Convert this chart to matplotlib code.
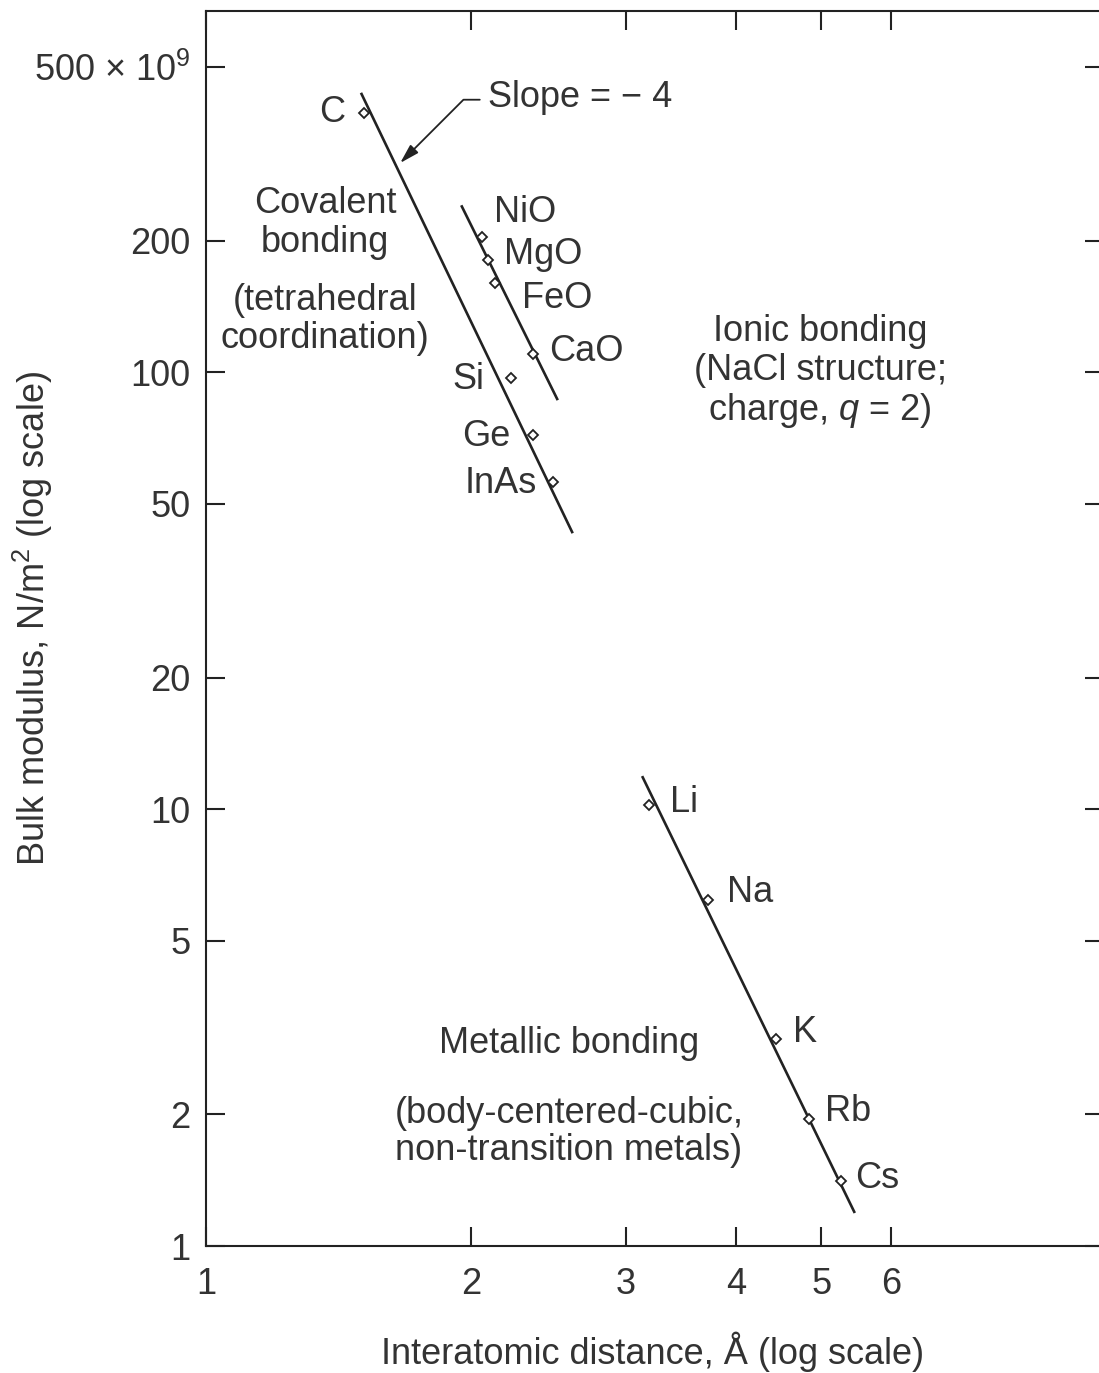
import matplotlib
matplotlib.use("Agg")
import matplotlib.pyplot as plt
from matplotlib.ticker import FixedLocator, FixedFormatter, NullLocator

plt.rcParams['font.family'] = ['Liberation Sans', 'DejaVu Sans']
plt.rcParams['mathtext.fontset'] = 'custom'
plt.rcParams['mathtext.rm'] = 'Liberation Sans'
plt.rcParams['mathtext.it'] = 'Liberation Sans:italic'

# interatomic distance (angstrom) and bulk modulus (x1e9 N/m^2)
covalent_names = ["C", "Si", "Ge", "InAs"]
covalent_r = [1.51, 2.22, 2.35, 2.48]
covalent_B = [392, 97, 72, 56]

ionic_names = ["NiO", "MgO", "FeO", "CaO"]
ionic_r = [2.06, 2.09, 2.13, 2.35]
ionic_B = [204, 181, 160, 110]

metal_names = ["Li", "Na", "K", "Rb", "Cs"]
metal_r = [3.19, 3.72, 4.44, 4.84, 5.27]
metal_B = [10.2, 6.2, 2.97, 1.95, 1.41]

# slope -4 guide lines (end points)
covalent_line_r = [1.50, 2.61]
covalent_line_B = [436, 42.8]
ionic_line_r = [1.95, 2.51]
ionic_line_B = [241, 86.3]
metal_line_r = [3.13, 5.46]
metal_line_B = [11.9, 1.19]

x_ticks = [1, 2, 3, 4, 5, 6]
x_tick_labels = ["1", "2", "3", "4", "5", "6"]
y_ticks = [1, 2, 5, 10, 20, 50, 100, 200, 500]
y_tick_labels = ["1", "2", "5", "10", "20", "50", "100", "200", r"500 $\times$ 10$^{9}$"]

# label offsets in points (dx, dy, ha)
covalent_offsets = [(-13, 0.7, 'right'), (-19.4, -1.4, 'right'), (-15.8, -1.4, 'right'), (-11.5, -0.7, 'right')]
ionic_offsets = [(8.6, 17.3, 'left'), (11.5, 3.6, 'left'), (19.4, -10.8, 'left'), (12.2, 2.2, 'left')]
metal_offsets = [(15.1, 2.2, 'left'), (13.7, 5.0, 'left'), (12.2, 5.0, 'left'), (11.5, 5.8, 'left'), (10.1, 1.4, 'left')]

FS = 26
TXT = '#333333'

fig = plt.figure(figsize=(10.99, 13.73), dpi=100)
ax = fig.add_axes([206 / 1099, 127 / 1373, 898 / 1099, 1235 / 1373])
ax.set_xscale('log')
ax.set_yscale('log')
ax.set_xlim(1, 10.48)
ax.set_ylim(1, 671)

for r, B in [(covalent_line_r, covalent_line_B), (ionic_line_r, ionic_line_B), (metal_line_r, metal_line_B)]:
    ax.plot(r, B, color='#222222', lw=1.9, solid_capstyle='butt', zorder=2)

groups = [(covalent_names, covalent_r, covalent_B, covalent_offsets),
          (ionic_names, ionic_r, ionic_B, ionic_offsets),
          (metal_names, metal_r, metal_B, metal_offsets)]
for names, rs, Bs, offs in groups:
    ax.plot(rs, Bs, linestyle='none', marker='D', ms=5, mfc='white', mec='#222222', mew=1.3, zorder=3)
    for name, r, B, (dx, dy, ha) in zip(names, rs, Bs, offs):
        ax.annotate(name, (r, B), xytext=(dx, dy), textcoords='offset points',
                    ha=ha, va='center', fontsize=FS, color=TXT)

ax.text(1.365, 219.5, "Covalent\nbonding", ha='center', va='center', fontsize=FS, color=TXT, linespacing=1.14)
ax.text(1.365, 132.2, "(tetrahedral\ncoordination)", ha='center', va='center', fontsize=FS, color=TXT, linespacing=1.1)
ax.text(4.986, 100, "Ionic bonding\n(NaCl structure;\ncharge, $q$ = 2)", ha='center', va='center', fontsize=FS,
        color=TXT, linespacing=1.12)
ax.text(2.585, 2.904, "Metallic bonding", ha='center', va='center', fontsize=FS, color=TXT)
ax.text(2.585, 1.825, "(body-centered-cubic,\nnon-transition metals)", ha='center', va='center', fontsize=FS,
        color=TXT, linespacing=1.1)

ax.annotate("Slope = \u2212 4", xy=(1.662, 301.2), xytext=(2.092, 424.3), ha='left', va='center',
            fontsize=FS, color=TXT,
            arrowprops=dict(arrowstyle='-|>,head_length=0.45,head_width=0.13', color='#222222', lw=1.3,
                            connectionstyle='angle,angleA=0,angleB=45,rad=0',
                            relpos=(0, 0.45), shrinkA=4, shrinkB=0))

ax.xaxis.set_major_locator(FixedLocator(x_ticks))
ax.xaxis.set_major_formatter(FixedFormatter(x_tick_labels))
ax.xaxis.set_minor_locator(NullLocator())
ax.yaxis.set_major_locator(FixedLocator(y_ticks))
ax.yaxis.set_major_formatter(FixedFormatter(y_tick_labels))
ax.yaxis.set_minor_locator(NullLocator())

ax.tick_params(which='major', direction='in', length=14, width=1.5, color='#222222',
               labelsize=FS, labelcolor=TXT, top=True, right=True)
ax.tick_params(axis='x', pad=15)
ax.tick_params(axis='y', pad=11)
for side in ['left', 'bottom', 'top']:
    ax.spines[side].set_linewidth(1.5)
    ax.spines[side].set_color('#222222')
ax.spines['right'].set_visible(False)

ax.set_xlabel("Interatomic distance, \u00c5 (log scale)", fontsize=FS, color=TXT, va='center')
ax.xaxis.set_label_coords(0.4978, -0.0855)
ax.set_ylabel("Bulk modulus, N/m$^2$ (log scale)", fontsize=FS, color=TXT, va='center')
ax.yaxis.set_label_coords(-0.193, 0.5085)

fig.savefig("out.png", dpi=100)
